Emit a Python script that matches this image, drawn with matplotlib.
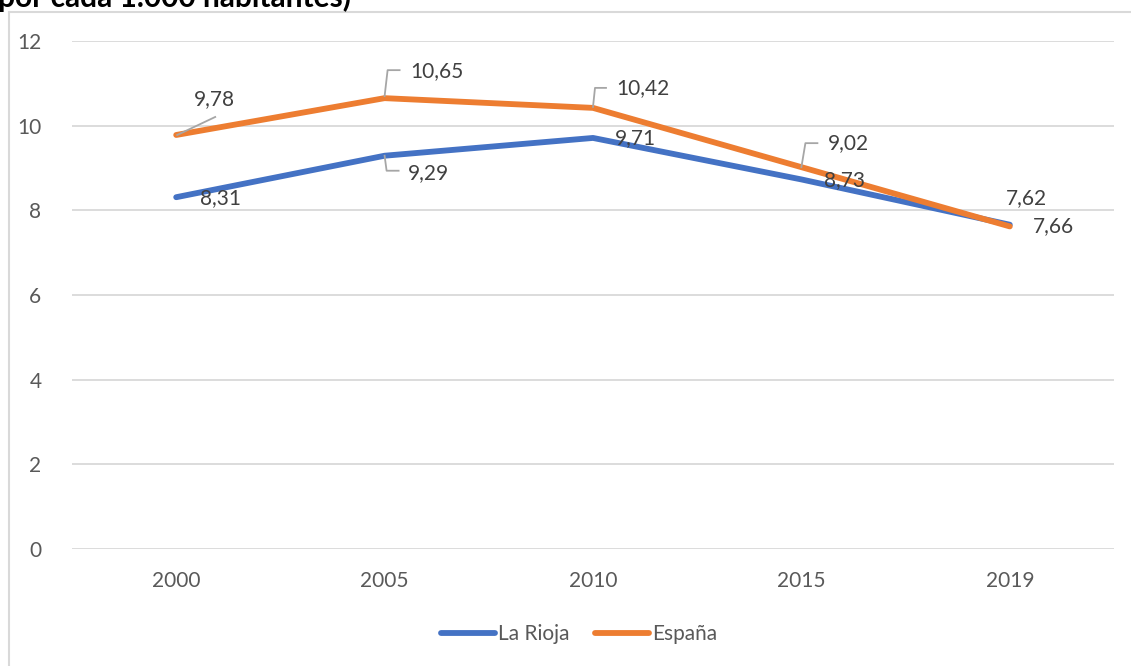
import matplotlib
matplotlib.use("Agg")
import matplotlib.pyplot as plt
from matplotlib.lines import Line2D
import numpy as np

years = ["2000", "2005", "2010", "2015", "2019"]
la_rioja = [8.31, 9.29, 9.71, 8.73, 7.66]
espana = [9.78, 10.65, 10.42, 9.02, 7.62]
series_names = ["La Rioja", "España"]
title_text = "por cada 1.000 habitantes)"
yticks = [0, 2, 4, 6, 8, 10, 12]

BLUE = "#4472C4"
ORANGE = "#ED7D31"
GRID = "#D9D9D9"
TXT = "#595959"
LBL = "#404040"
FONT = "Lato"
FS = 15

plt.rcParams["font.family"] = [FONT, "DejaVu Sans"]

W, H = 1131, 666
fig = plt.figure(figsize=(W / 100, H / 100), dpi=100)
fig.patch.set_facecolor("white")

# plot area in pixel coords (image coordinates)
left, right, top, bottom = 72, 1114, 41, 549
ax = fig.add_axes([left / W, 1 - bottom / H, (right - left) / W, (bottom - top) / H])
ax.set_xlim(-0.5, len(years) - 0.5)
ax.set_ylim(0, 12)
ax.set_yticks(yticks)
ax.set_yticklabels([str(t) for t in yticks])
ax.set_xticks(range(len(years)))
ax.set_xticklabels(years)
for s in ax.spines.values():
    s.set_visible(False)
ax.grid(axis="y", color=GRID, linewidth=1.3)
ax.set_axisbelow(True)
ax.tick_params(axis="both", length=0, labelsize=FS, colors=TXT)
ax.tick_params(axis="y", pad=22)
ax.tick_params(axis="x", pad=16)
ax.set_facecolor("none")

x = np.arange(len(years))
ax.plot(x, la_rioja, color=BLUE, linewidth=4.2, solid_capstyle="round", label=series_names[0], zorder=3)
ax.plot(x, espana, color=ORANGE, linewidth=4.2, solid_capstyle="round", label=series_names[1], zorder=4)

fig.canvas.draw()


def disp(i, v):
    return ax.transData.transform((i, v))


# label placements: (text left offset px, text center-y offset px [image down +], leader vertices)
blue_place = [
    (24, 1, None),
    (23, 17, [(0, 0), (2, 15), (14, 15)]),
    (22, 0, None),
    (23, 1, None),
    (23, 1, None),
]
orange_place = [
    (18, -36, [(1, 0), (39, -18)]),
    (26, -27, [(0, -2), (3, -28), (15, -28)]),
    (23, -20, [(0, -1), (2, -20), (13, -20)]),
    (26, -24, [(0, 0), (4, -24), (16, -24)]),
    (-4, -28, None),
]

for vals, places in ((la_rioja, blue_place), (espana, orange_place)):
    for i, (v, (dx, dy, leader)) in enumerate(zip(vals, places)):
        px, py = disp(i, v)
        label = f"{v:.2f}".replace(".", ",")
        fig.text(px + dx, py - dy, label, transform=None, ha="left", va="center",
                 fontsize=FS, color=LBL, zorder=6)
        if leader:
            xs = [px + a for a, b in leader]
            ys = [py - b for a, b in leader]
            fig.add_artist(Line2D(xs, ys, transform=None, color="#A6A6A6", linewidth=1.3, zorder=5))

# legend
handles = [Line2D([], [], color=BLUE, linewidth=4.2, solid_capstyle="round"),
           Line2D([], [], color=ORANGE, linewidth=4.2, solid_capstyle="round")]
fig.legend(handles, series_names, loc="center", bbox_to_anchor=(579 / W, 1 - 634 / H),
           ncol=2, frameon=False, fontsize=FS, labelcolor=TXT, handlelength=2.6,
           handletextpad=0.15, columnspacing=1.2)

# chart frame (left and top borders)
fig.add_artist(Line2D([9 / W, 9 / W], [0, 1 - 12 / H], transform=fig.transFigure, color=GRID, linewidth=1.5))
fig.add_artist(Line2D([9 / W, 1], [1 - 12 / H, 1 - 12 / H], transform=fig.transFigure, color=GRID, linewidth=1.5))

# title, cut off at the top edge as in the reference
fig.text(-2 / W, 1 - 7 / H, title_text, ha="left", va="baseline", fontsize=21.5,
         fontweight="bold", color="black")

fig.savefig("out.png", dpi=100, facecolor="white")
